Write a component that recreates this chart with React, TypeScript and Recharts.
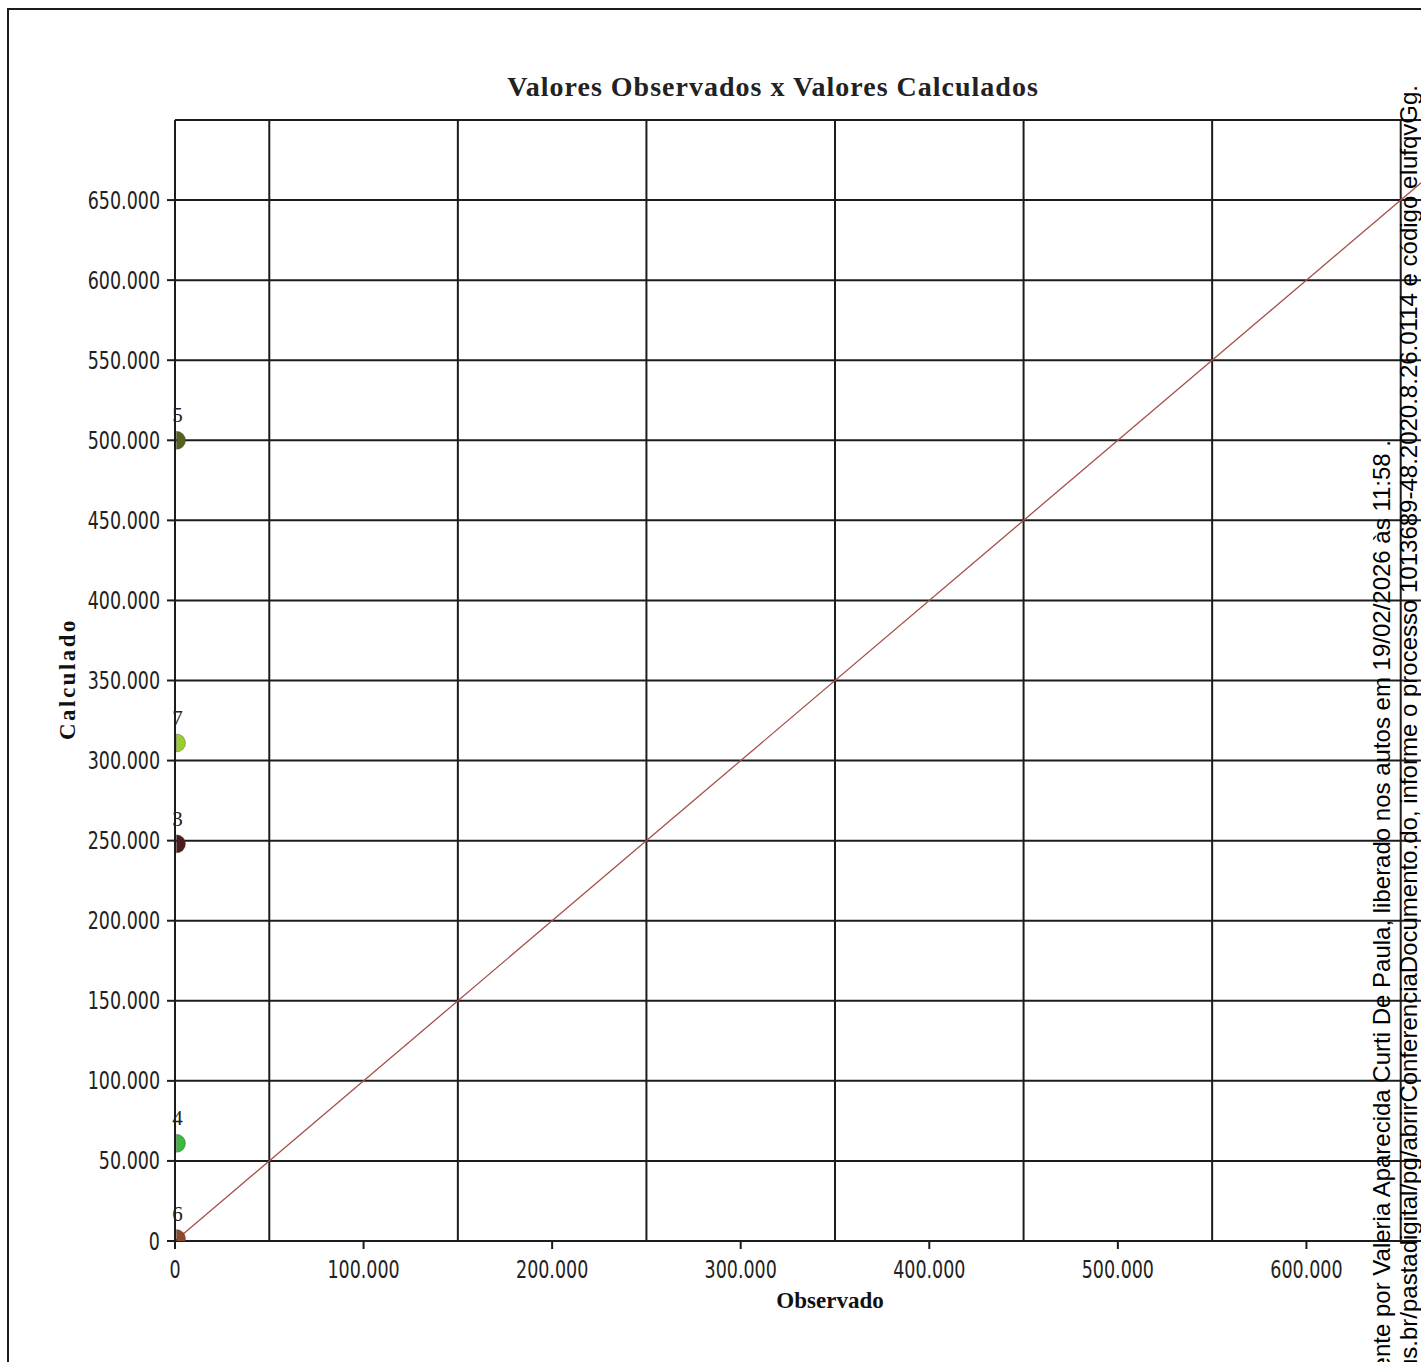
import React from 'react';
import { ScatterChart, Scatter, XAxis, YAxis, ReferenceLine, Cell } from 'recharts';

// pontos observados x calculados
const pointIds = ['3', '4', '5', '6', '7'];
const observedValues = [800, 800, 800, 800, 800];
const calculatedValues = [248000, 61000, 500000, 1500, 311000];
const pointColors = ['#4e1c1c', '#3cb83c', '#55621f', '#8e4a2c', '#9ccc2e'];

const xTicks = [0, 100000, 200000, 300000, 400000, 500000, 600000];
const yTicks = [0, 50000, 100000, 150000, 200000, 250000, 300000, 350000, 400000, 450000, 500000, 550000, 600000, 650000];
const xGridValues = [50000, 150000, 250000, 350000, 450000, 550000, 650000];
const yGridValues = [50000, 100000, 150000, 200000, 250000, 300000, 350000, 400000, 450000, 500000, 550000, 600000, 650000, 700000];
const diagonal = [{ x: 0, y: 0 }, { x: 700000, y: 700000 }];
const domainMax = 700000;

const watermarkLine1 = 'ente por Valeria Aparecida Curti De Paula, liberado nos autos em 19/02/2026 às 11:58 .';
const watermarkLine2 = 'us.br/pastadigital/pg/abrirConferenciaDocumento.do, informe o processo 1013689-48.2020.8.26.0114 e código eIufqvGg.';

const CHART_W = 1520;
const CHART_H = 1362;
const PLOT_LEFT = 175;
const PLOT_TOP = 120;
const PLOT_BOTTOM = 1241;

const tickFont = "'DejaVu Sans Condensed', 'DejaVu Sans', sans-serif";
const serif = "'Liberation Serif', 'DejaVu Serif', serif";

const fmt = (v: number) => String(v).replace(/\B(?=(\d{3})+(?!\d))/g, '.');

const data = pointIds.map((id, i) => ({ id, x: observedValues[i], y: calculatedValues[i] }));

// the original digits are tall and narrow, so squeeze them a bit
const XTick = (props: any) => {
  const { x, y, payload } = props;
  return (
    <text transform={`translate(${x},${y}) scale(0.81,1)`} textAnchor="middle" dy="0.71em" fontFamily={tickFont} fontSize={24} fill="#222">
      {fmt(payload.value)}
    </text>
  );
};

const YTick = (props: any) => {
  const { x, y, payload } = props;
  return (
    <text transform={`translate(${x},${y}) scale(0.81,1)`} textAnchor="end" dy="0.355em" fontFamily={tickFont} fontSize={24} fill="#222">
      {fmt(payload.value)}
    </text>
  );
};

const Marker = (props: any) => {
  const { cx, cy, fill, payload } = props;
  const r = 9;
  return (
    <g>
      <path
        d={`M${cx},${cy - r} A${r},${r} 0 0 1 ${cx},${cy + r} Z`}
        fill={fill}
        stroke="#333"
        strokeOpacity={0.35}
        strokeWidth={1}
        clipPath="url(#plot-clip)"
      />
      <text x={cx + 1} y={cy - 18} textAnchor="middle" fontFamily={serif} fontSize={21} fill="#222">
        {payload.id}
      </text>
    </g>
  );
};

export default function App() {
  return (
    <div style={{ position: 'fixed', left: 0, top: 0, width: 1421, height: 1362, overflow: 'hidden', background: '#fff' }}>
      <div style={{ position: 'absolute', left: 7, top: 8, width: 1600, height: 1600, border: '2px solid #1c1c1c' }} />
      <div style={{ position: 'absolute', left: 0, top: 0 }}>
        <ScatterChart width={CHART_W} height={CHART_H} margin={{ top: PLOT_TOP, right: 25, bottom: 0, left: 0 }}>
          <XAxis
            type="number"
            dataKey="x"
            domain={[0, domainMax]}
            ticks={xTicks}
            tickFormatter={fmt}
            height={CHART_H - PLOT_BOTTOM}
            axisLine={{ stroke: '#1c1c1c', strokeWidth: 2 }}
            tickLine={{ stroke: '#1c1c1c', strokeWidth: 2 }}
            tickSize={8}
            tickMargin={12}
            tick={<XTick />}
            interval={0}
          />
          <YAxis
            type="number"
            dataKey="y"
            domain={[0, domainMax]}
            ticks={yTicks}
            tickFormatter={fmt}
            width={PLOT_LEFT}
            axisLine={{ stroke: '#1c1c1c', strokeWidth: 2 }}
            tickLine={{ stroke: '#1c1c1c', strokeWidth: 2 }}
            tickSize={8}
            tickMargin={7}
            tick={<YTick />}
            interval={0}
          />
          {yGridValues.map(v => (
            <ReferenceLine key={'h' + v} y={v} stroke="#1c1c1c" strokeWidth={2} />
          ))}
          {xGridValues.map(v => (
            <ReferenceLine key={'v' + v} x={v} stroke="#1c1c1c" strokeWidth={2} />
          ))}
          <ReferenceLine segment={diagonal} stroke="#a5504c" strokeWidth={1.3} />
          <Scatter data={data} shape={Marker} isAnimationActive={false}>
            {data.map((d, i) => (
              <Cell key={d.id} fill={pointColors[i]} />
            ))}
          </Scatter>
        </ScatterChart>
      </div>
      <svg width={1421} height={1362} style={{ position: 'absolute', left: 0, top: 0, pointerEvents: 'none' }}>
        <defs>
          <clipPath id="plot-clip" clipPathUnits="userSpaceOnUse">
            <rect x={PLOT_LEFT} y={PLOT_TOP} width={CHART_W - PLOT_LEFT} height={PLOT_BOTTOM - PLOT_TOP} />
          </clipPath>
        </defs>
        <text x={773} y={96} textAnchor="middle" fontFamily={serif} fontWeight="bold" fontSize={28} letterSpacing={1} fill="#222">
          Valores Observados x Valores Calculados
        </text>
        <text x={830} y={1308} textAnchor="middle" fontFamily={serif} fontWeight="bold" fontSize={23} fill="#111">
          Observado
        </text>
        <text
          transform="translate(75,679) rotate(-90)"
          textAnchor="middle"
          fontFamily={serif}
          fontWeight="bold"
          fontSize={23}
          letterSpacing={2.5}
          fill="#111"
        >
          Calculado
        </text>
        <text transform="translate(1390,440) rotate(-90)" textAnchor="end" fontFamily="'Liberation Sans', Arial, sans-serif" fontSize={24} fill="#000">
          {watermarkLine1}
        </text>
        <text transform="translate(1417,85) rotate(-90)" textAnchor="end" fontFamily="'Liberation Sans', Arial, sans-serif" fontSize={24} fill="#000">
          {watermarkLine2}
        </text>
      </svg>
    </div>
  );
}
